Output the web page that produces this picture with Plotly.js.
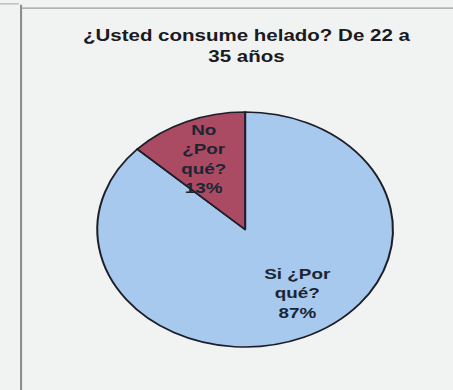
<!DOCTYPE html>
<html>
<head>
<meta charset="utf-8">
<script src="https://cdn.plot.ly/plotly-3.0.1.min.js"></script>
<style>
  html, body { margin: 0; padding: 0; overflow: hidden; background: #f1f2f2; }
  #wrap { width: 453px; height: 390px; overflow: hidden; }
  /* the chart is laid out narrow and stretched sideways, giving the oval pie and wide lettering */
  #chart { width: 360px; height: 390px; transform: scaleX(1.2583); transform-origin: 0 0; }
</style>
</head>
<body>
<div id="wrap"><div id="chart"></div></div>
<script>
// Survey answers, ages 22 to 35
var categories = ["Si ¿Por qué?", "No ¿Por qué?"];
var labelLines = ["Si ¿Por<br>qué?", "No<br>¿Por<br>qué?"];
var percents = [87, 13];
var sliceColors = ["#a6c9ed", "#ab4a63"];
var chartTitle = "¿Usted consume helado? De 22 a<br>35 años";

// where each slice label sits (paper coords)
var labelPos = [[0.656, 0.25], [0.4505, 0.592]];

var trace = {
  type: "pie",
  labels: categories,
  values: percents,
  sort: false,
  direction: "clockwise",
  rotation: 0,
  textinfo: "none",
  hoverinfo: "skip",
  marker: { colors: sliceColors, line: { color: "#1e1e28", width: 1.6 } },
  domain: { x: [0.2147, 0.8675], y: [0.1103, 0.7128] },
  showlegend: false
};

var labelFont = { family: "Liberation Sans, Arial, sans-serif", size: 15, color: "#1c2633", weight: "bold" };

var annotations = categories.map(function (c, i) {
  return {
    xref: "paper", yref: "paper",
    x: labelPos[i][0], y: labelPos[i][1],
    xanchor: "center", yanchor: "middle",
    showarrow: false,
    text: "<b>" + labelLines[i] + "<br>" + percents[i] + "%</b>",
    font: labelFont
  };
});

// chart title, bold, two lines
annotations.push({
  xref: "paper", yref: "paper",
  x: 0.545, y: 0.8833,
  xanchor: "center", yanchor: "middle",
  showarrow: false,
  text: "<b>" + chartTitle + "</b>",
  font: { family: "Liberation Sans, Arial, sans-serif", size: 16.3, color: "#1a1a20", weight: "bold" }
});

var layout = {
  width: 360, height: 390,
  margin: { l: 0, r: 0, t: 0, b: 0, pad: 0 },
  paper_bgcolor: "#f1f2f2",
  plot_bgcolor: "#f1f2f2",
  annotations: annotations,
  shapes: [
    // frame of the chart area
    { type: "line", xref: "paper", yref: "paper", x0: 0.0465, x1: 0.0465, y0: 0, y1: 0.988,
      line: { color: "#8a8a8a", width: 1.6 } },
    { type: "line", xref: "paper", yref: "paper", x0: 0.0465, x1: 1, y0: 0.979, y1: 0.979,
      line: { color: "#9a9a9a", width: 1.3 } },
    { type: "line", xref: "paper", yref: "paper", x0: 0, x1: 0.042, y0: 0.99, y1: 0.99,
      line: { color: "#a5a5a5", width: 1 } }
  ]
};

Plotly.newPlot("chart", [trace], layout, { staticPlot: true, displayModeBar: false });
</script>
</body>
</html>
